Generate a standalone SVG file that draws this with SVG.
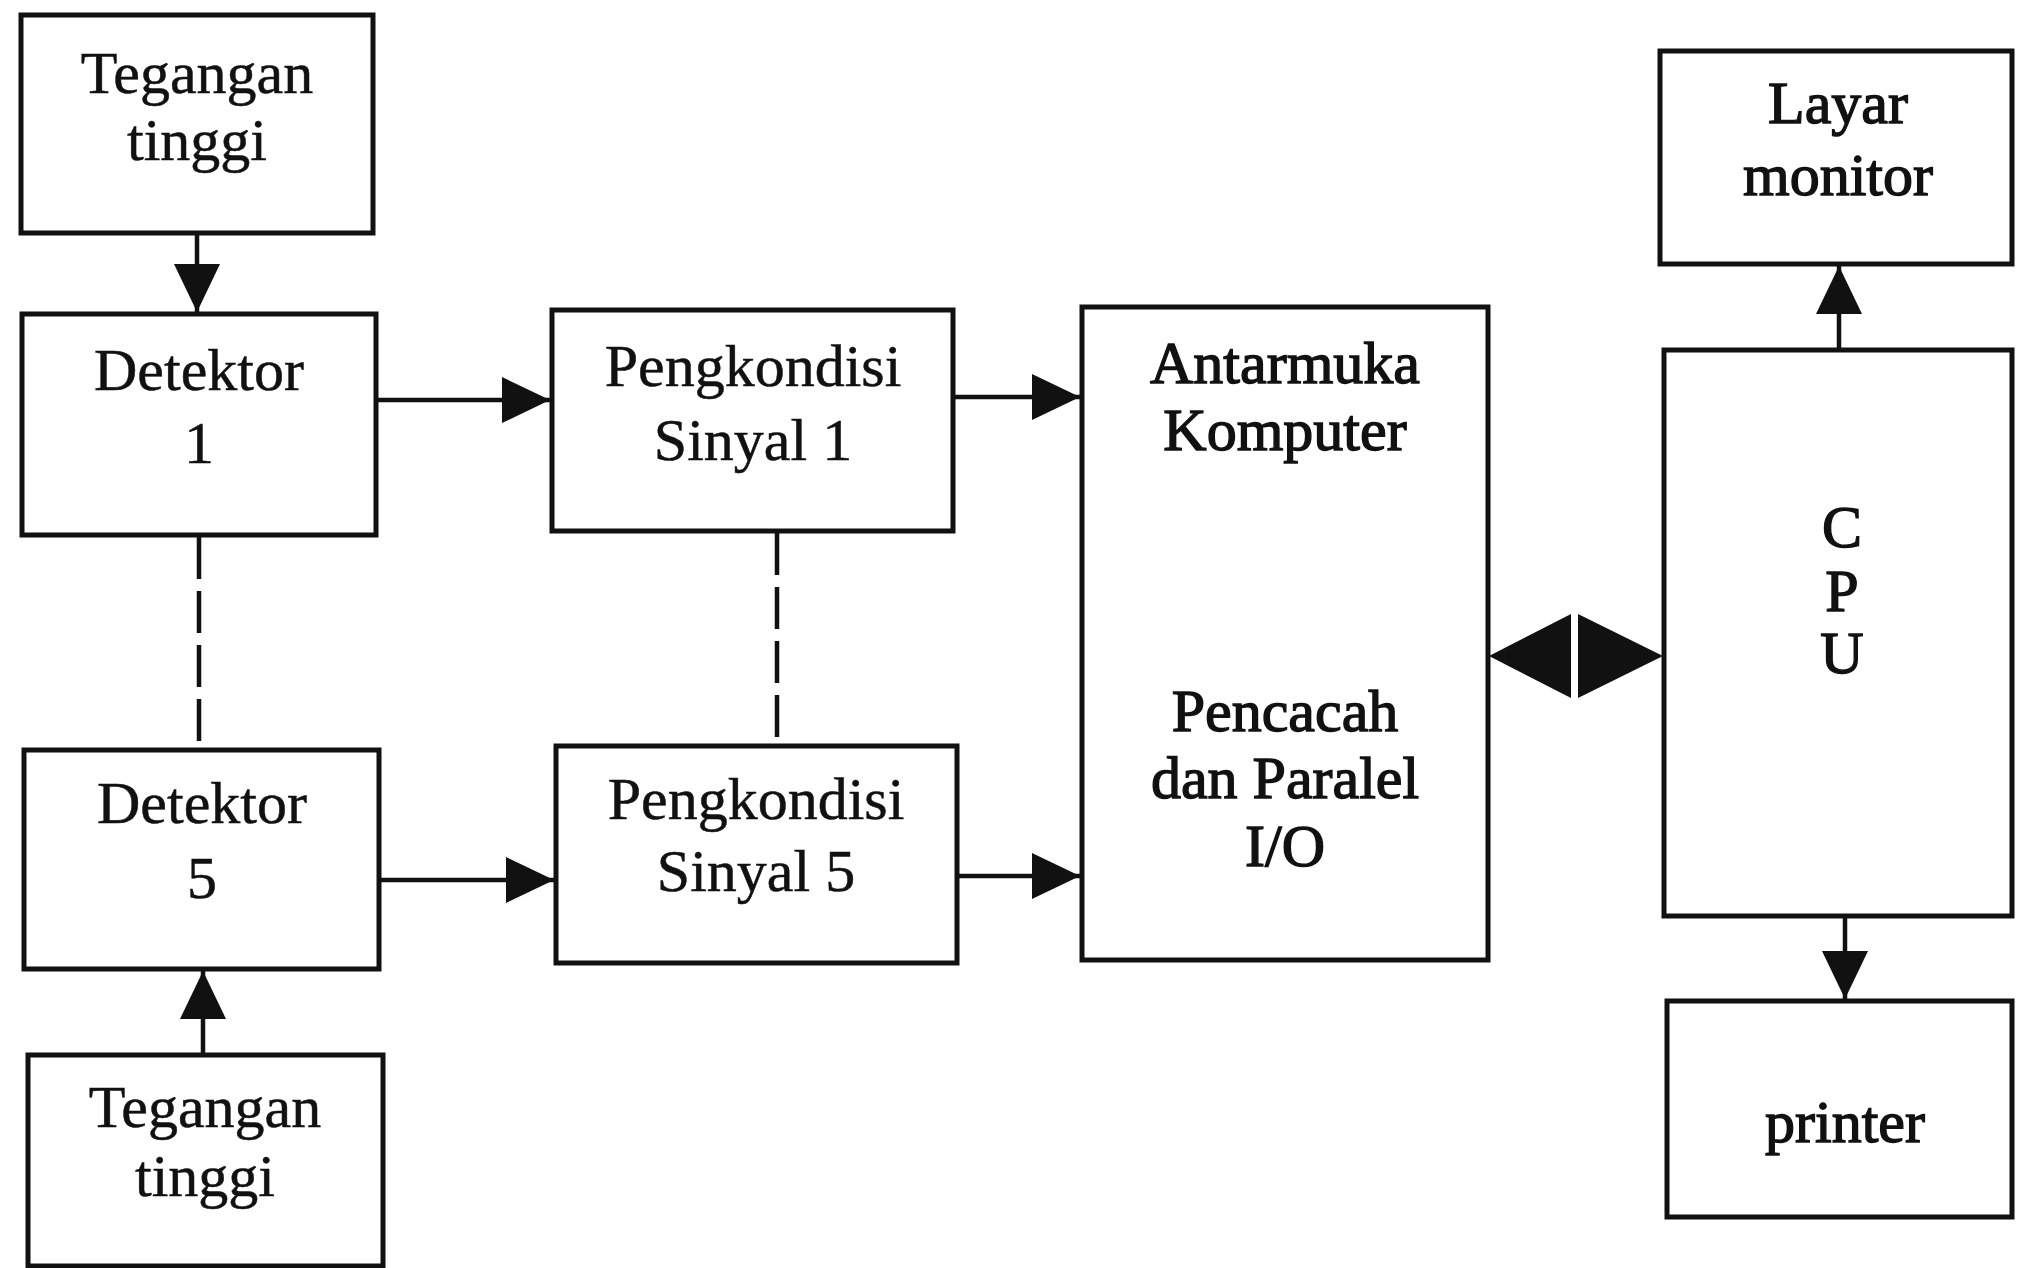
<svg xmlns="http://www.w3.org/2000/svg" width="2017" height="1268" viewBox="0 0 2017 1268">
<defs>
<style>
.box{fill:#fff;stroke:#111;stroke-width:5}
.t{font-family:"Liberation Serif","Times New Roman",serif;font-size:60px;fill:#111;text-anchor:middle;stroke:#111;stroke-width:0.5}
.b{stroke-width:1.4}
.ln{stroke:#111;stroke-width:4.5;fill:none}
.dash{stroke:#111;stroke-width:4.5;fill:none;stroke-dasharray:42 12}
</style>
<marker id="ah" markerUnits="userSpaceOnUse" markerWidth="50" markerHeight="46" refX="48" refY="23" orient="auto">
<path d="M0,0 L48,23 L0,46 z" fill="#111"/>
</marker>
</defs>
<rect width="2017" height="1268" fill="#fff"/>
<g id="connectors">
<line class="ln" x1="197" y1="233" x2="197" y2="312" marker-end="url(#ah)"/>
<line class="ln" x1="203" y1="1055" x2="203" y2="971" marker-end="url(#ah)"/>
<line class="ln" x1="376" y1="400" x2="550" y2="400" marker-end="url(#ah)"/>
<line class="ln" x1="953" y1="397" x2="1080" y2="397" marker-end="url(#ah)"/>
<line class="ln" x1="379" y1="880" x2="554" y2="880" marker-end="url(#ah)"/>
<line class="ln" x1="957" y1="876" x2="1080" y2="876" marker-end="url(#ah)"/>
<line class="ln" x1="1839" y1="350" x2="1839" y2="266" marker-end="url(#ah)"/>
<line class="ln" x1="1845" y1="916" x2="1845" y2="999" marker-end="url(#ah)"/>
<line class="dash" x1="199" y1="537" x2="199" y2="750"/>
<line class="dash" x1="777" y1="533" x2="777" y2="746"/>
<polygon points="1489,656 1571,614 1571,698" fill="#111"/>
<polygon points="1663,656 1578,614 1578,698" fill="#111"/>
</g>
<g id="tegangan1"><rect class="box" x="21" y="15" width="352" height="218"/>
<text class="t" x="197" y="93">Tegangan</text><text class="t" x="197" y="160">tinggi</text></g>
<g id="detektor1"><rect class="box" x="22" y="314" width="354" height="221"/>
<text class="t" x="199" y="390">Detektor</text><text class="t" x="199" y="463">1</text></g>
<g id="pengkondisi1"><rect class="box" x="552" y="310" width="401" height="221"/>
<text class="t" x="753" y="386">Pengkondisi</text><text class="t" x="753" y="460">Sinyal 1</text></g>
<g id="antarmuka"><rect class="box" x="1082" y="307" width="406" height="653"/>
<text class="t b" x="1285" y="383">Antarmuka</text><text class="t b" x="1285" y="450">Komputer</text>
<text class="t b" x="1285" y="731">Pencacah</text><text class="t b" x="1285" y="798">dan Paralel</text><text class="t b" x="1285" y="866">I/O</text></g>
<g id="layar"><rect class="box" x="1660" y="51" width="352" height="213"/>
<text class="t b" x="1838" y="123">Layar</text><text class="t b" x="1838" y="195">monitor</text></g>
<g id="cpu"><rect class="box" x="1664" y="350" width="348" height="566"/>
<text class="t b" x="1842" y="547">C</text><text class="t b" x="1842" y="611">P</text><text class="t b" x="1842" y="673">U</text></g>
<g id="printer"><rect class="box" x="1667" y="1001" width="345" height="216"/>
<text class="t b" x="1845" y="1142">printer</text></g>
<g id="detektor5"><rect class="box" x="24" y="750" width="355" height="219"/>
<text class="t" x="202" y="823">Detektor</text><text class="t" x="202" y="898">5</text></g>
<g id="pengkondisi5"><rect class="box" x="556" y="746" width="401" height="217"/>
<text class="t" x="756" y="819">Pengkondisi</text><text class="t" x="756" y="891">Sinyal 5</text></g>
<g id="tegangan2"><rect class="box" x="28" y="1055" width="355" height="211"/>
<text class="t" x="205" y="1127">Tegangan</text><text class="t" x="205" y="1196">tinggi</text></g>
</svg>
